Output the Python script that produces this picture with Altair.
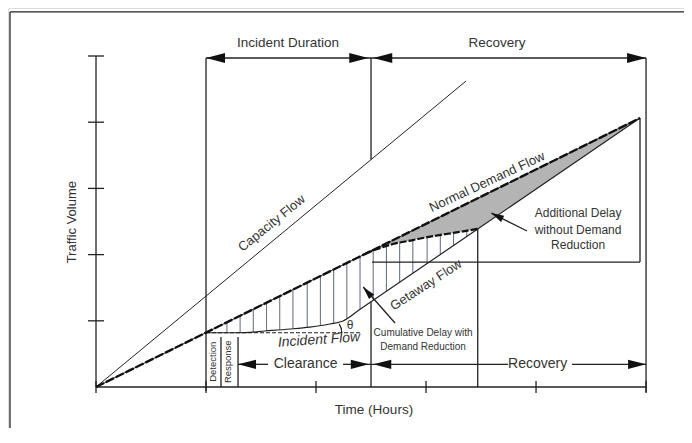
import altair as alt
import pandas as pd

# ---------------- data (time in hours-units, volume in tick-units) ----------------
x_ticks = [0, 1, 2, 3, 4, 5]
y_ticks = [1, 2, 3, 4, 5]

# capacity flow line
cap_t = [0.0, 3.364]
cap_v = [0.0, 4.622]

# normal demand flow
nd_t = [0.0, 4.945]
nd_v = [0.0, 4.063]

# incident flow curve followed by getaway flow
inc_t = [1.0, 1.173, 1.355, 1.536, 1.764, 1.945, 2.127, 2.245, 2.4, 3.473, 4.945]
inc_v = [0.82, 0.82, 0.823, 0.846, 0.876, 0.906, 0.952, 0.997, 1.173, 2.391, 4.063]

# incident flow dashed reference
incflow_t = [1.0, 2.4]
incflow_v = [0.82, 0.82]

# dashed demand-reduction curve during recovery
rec_t = [2.45, 2.55, 2.7, 2.88, 3.05, 3.2, 3.35, 3.473]
rec_v = [2.013, 2.08, 2.16, 2.22, 2.275, 2.315, 2.355, 2.391]

# grey "additional delay" region
gray_t = [2.45, 2.55, 2.7, 2.88, 3.05, 3.2, 3.35, 3.473, 4.945]
gray_top = [2.013, 2.095, 2.218, 2.366, 2.506, 2.629, 2.752, 2.854, 4.063]
gray_bot = [2.013, 2.08, 2.16, 2.22, 2.275, 2.315, 2.355, 2.391, 4.063]

# hatch lines of cumulative delay
hatch_t = [1.19, 1.31, 1.43, 1.55, 1.67, 1.79, 1.92, 2.04, 2.16, 2.28,
           2.40, 2.52, 2.64, 2.76, 2.88, 3.01, 3.13, 3.25, 3.37]
hatch_top = [0.978, 1.076, 1.175, 1.273, 1.372, 1.471, 1.577, 1.676, 1.775, 1.873,
             1.972, 2.06, 2.125, 2.18, 2.22, 2.26, 2.30, 2.33, 2.36]
hatch_bot = [0.82, 0.822, 0.832, 0.848, 0.864, 0.880, 0.902, 0.930, 0.965, 1.037,
             1.173, 1.309, 1.446, 1.582, 1.718, 1.866, 2.002, 2.138, 2.274]

# structural segments (frame, axes, markers, arrows)
seg_t1 = [-0.782, -0.782, 0, 0, 1, 2.5, 2.5, 3.47, 5, 2.509, 4.945, 1, 1.136, 1.291,
          1.291, 2.245, 2.5, 4.327, 2.718, 3.918]
seg_v1 = [-0.7, 5.665, 0, 0, -0.06, 3.435, 0, 0, -0.08, 1.888, 1.888, 4.97, 0, 0,
          0.343, 0.343, 0.343, 0.343, 0.967, 2.356]
seg_t2 = [-0.782, 5.6, 0, 5.0, 1, 2.5, 2.5, 3.47, 5, 4.945, 4.945, 5, 1.136, 1.291,
          1.564, 2.5, 3.745, 5, 2.43, 3.595]
seg_v2 = [5.665, 5.665, 5.0, 0, 4.97, 4.97, 1.287, 2.387, 4.97, 1.888, 4.063, 4.97, 0.755, 0.755,
          0.343, 0.343, 0.343, 0.343, 1.51, 2.626]

# arrowheads: tip position, rotation, size
head_t = [1.0, 2.475, 2.52, 5.0, 1.291, 2.48, 2.52, 5.0, 2.427, 3.591]
head_v = [4.97, 4.97, 4.97, 4.97, 0.343, 0.343, 0.343, 0.343, 1.511, 2.628]
head_ang = [0, 180, 0, 180, 0, 180, 0, 180, 48.4, 26.6]
head_size = [1444, 1444, 1444, 1444, 1296, 1296, 1296, 1296, 676, 676]

# labels
lab_text = ["Incident Duration", "Recovery", "Capacity Flow", "Normal Demand Flow",
            "Getaway Flow", "θ", "Cumulative Delay with", "Demand Reduction",
            "Additional Delay", "without Demand", "Reduction", "Clearance", "Recovery",
            "Time (Hours)", "Traffic Volume", "Detection", "Response"]
lab_t = [1.745, 3.645, 1.597, 3.555, 3.0, 2.309, 2.973, 2.973, 4.382, 4.382, 4.382,
         1.905, 4.014, 2.527, -0.218, 1.061, 1.197]
lab_v = [5.192, 5.189, 2.473, 3.097, 1.541, 0.937, 0.816, 0.604, 2.628, 2.379, 2.145,
         0.35, 0.347, -0.347, 2.49, 0.382, 0.382]
lab_size = [13.5, 13.5, 13, 13, 13, 12, 10, 10, 12, 12, 12, 14, 14, 13.5, 13, 9.5, 9.5]
lab_ang = [0, 0, 321, 335, 327, 0, 0, 0, 0, 0, 0, 0, 0, 0, 270, 270, 270]

ital_text = ["Incident Flow"]
ital_t = [2.027]
ital_v = [0.71]

# ---------------- chart ----------------
INK = "#222222"
TXT = "#333333"
FONT = "Liberation Sans"

xs = alt.Scale(domain=[-0.8, 5.345], zero=False, nice=False)
ys = alt.Scale(domain=[-0.619, 5.725], zero=False, nice=False)


def X(f):
    return alt.X(f, type="quantitative", scale=xs, axis=None)


def Y(f):
    return alt.Y(f, type="quantitative", scale=ys, axis=None)


gray = alt.Chart(pd.DataFrame({"t": gray_t, "top": gray_top, "bot": gray_bot})).mark_area(
    color="#b4b4b4", opacity=1).encode(x=X("t"), y=Y("top"), y2="bot")

hatch = alt.Chart(pd.DataFrame({"t": hatch_t, "top": hatch_top, "bot": hatch_bot})).mark_rule(
    color="#6f768a", strokeWidth=1.1).encode(x=X("t"), y=Y("top"), y2="bot")

segs = alt.Chart(pd.DataFrame({"t1": seg_t1, "v1": seg_v1, "t2": seg_t2, "v2": seg_v2})).mark_rule(
    color=INK, strokeWidth=1.3).encode(x=X("t1"), y=Y("v1"), x2="t2", y2="v2")

xt = alt.Chart(pd.DataFrame({"t": x_ticks})).mark_rule(color=INK, strokeWidth=1.3).encode(
    x=X("t"), y=alt.value(379 - 6), y2=alt.value(379 + 6))
yt = alt.Chart(pd.DataFrame({"v": y_ticks})).mark_rule(color=INK, strokeWidth=1.3).encode(
    y=Y("v"), x=alt.value(88 - 8), x2=alt.value(88 + 8))

cap = alt.Chart(pd.DataFrame({"t": cap_t, "v": cap_v})).mark_line(
    color=INK, strokeWidth=1).encode(x=X("t"), y=Y("v"))

nd_thin = alt.Chart(pd.DataFrame({"t": nd_t, "v": nd_v})).mark_line(
    color=INK, strokeWidth=1).encode(x=X("t"), y=Y("v"))
nd = alt.Chart(pd.DataFrame({"t": nd_t, "v": nd_v})).mark_line(
    color="#111111", strokeWidth=2.4, strokeDash=[9, 2]).encode(x=X("t"), y=Y("v"))

inc = alt.Chart(pd.DataFrame({"t": inc_t, "v": inc_v})).mark_line(
    color=INK, strokeWidth=1.2, interpolate="monotone").encode(x=X("t"), y=Y("v"), order="t:Q")

incflow = alt.Chart(pd.DataFrame({"t": incflow_t, "v": incflow_v})).mark_line(
    color=INK, strokeWidth=1.2, strokeDash=[4, 2]).encode(x=X("t"), y=Y("v"))

rec = alt.Chart(pd.DataFrame({"t": rec_t, "v": rec_v})).mark_line(
    color="#111111", strokeWidth=2.2, strokeDash=[7, 2], interpolate="monotone").encode(
    x=X("t"), y=Y("v"))

theta_arc = alt.Chart(pd.DataFrame({"t": [2.089], "v": [0.82]})).mark_arc(
    radius=16, radius2=16, theta=0.98, theta2=1.571, stroke=INK, strokeWidth=1,
    fillOpacity=0).encode(x=X("t"), y=Y("v"))

heads = alt.Chart(pd.DataFrame({"t": head_t, "v": head_v, "a": head_ang, "s": head_size})).mark_point(
    shape="M0,0L1,-0.26L1,0.26Z", filled=True, color="#111111", opacity=1).encode(
    x=X("t"), y=Y("v"), angle=alt.Angle("a:Q", scale=None), size=alt.Size("s:Q", scale=None))

labels = alt.Chart(pd.DataFrame({"t": lab_t, "v": lab_v, "txt": lab_text, "s": lab_size,
                                 "a": lab_ang})).mark_text(
    font=FONT, color=TXT, align="center", baseline="middle").encode(
    x=X("t"), y=Y("v"), text="txt:N", size=alt.Size("s:Q", scale=None),
    angle=alt.Angle("a:Q", scale=None))

ital = alt.Chart(pd.DataFrame({"t": ital_t, "v": ital_v, "txt": ital_text})).mark_text(
    font=FONT, color=TXT, fontSize=14, fontStyle="italic", angle=356,
    align="center", baseline="middle").encode(x=X("t"), y=Y("v"), text="txt:N")

chart = alt.layer(
    gray, hatch, cap, nd_thin, inc, incflow, segs, xt, yt, nd, rec, theta_arc,
    heads, labels, ital
).properties(
    width=676, height=420, padding=0,
    autosize=alt.AutoSizeParams(type="none")
).configure_view(stroke=None).configure(background="white")

chart.save("out.html", embed_options={"renderer": "svg", "actions": False})
